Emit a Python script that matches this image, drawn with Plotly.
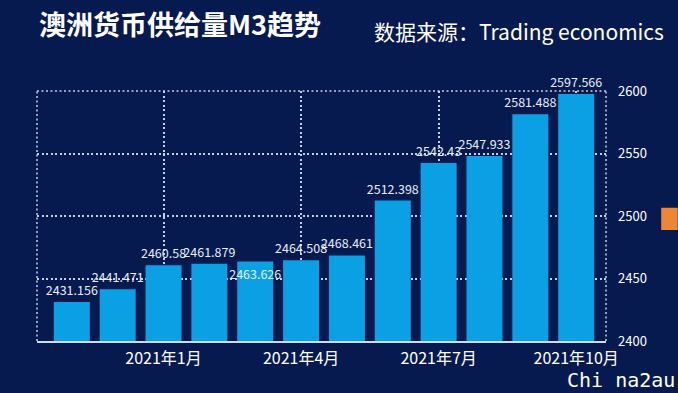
import plotly.graph_objects as go

months = ["2020-11", "2020-12", "2021-01", "2021-02", "2021-03", "2021-04",
          "2021-05", "2021-06", "2021-07", "2021-08", "2021-09", "2021-10"]
m3_values = [2431.156, 2441.471, 2460.58, 2461.879, 2463.626, 2464.508,
             2468.461, 2512.398, 2542.43, 2547.933, 2581.488, 2597.566]
label_pos = ["outside", "outside", "outside", "outside", "inside", "outside",
             "outside", "outside", "outside", "outside", "outside", "outside"]
tick_vals = ["2021-01", "2021-04", "2021-07", "2021-10"]
tick_text = ["2021年1月", "2021年4月", "2021年7月", "2021年10月"]
y_ticks = [2400, 2450, 2500, 2550, 2600]

BG = "#061a4f"
BAR = "#0ba0e4"
GRID = "rgba(215,228,245,0.9)"
FONT = "Noto Sans CJK SC"

fig = go.Figure()
fig.add_trace(go.Bar(
    x=months, y=m3_values,
    text=[str(v) for v in m3_values],
    textposition=label_pos,
    insidetextanchor="end",
    textangle=0,
    constraintext="none",
    cliponaxis=False,
    textfont=dict(family=FONT, size=12.5, color="#e6edf8"),
    marker=dict(color=BAR, line=dict(width=0)),
    hoverinfo="skip",
))

fig.update_layout(
    width=678, height=393,
    margin=dict(l=37, r=72, t=91, b=52),
    paper_bgcolor=BG, plot_bgcolor=BG,
    bargap=0.215,
    showlegend=False,
    font=dict(family=FONT, color="#ffffff"),
)

fig.update_xaxes(
    type="category",
    range=[-0.76, 11.65],
    tickmode="array", tickvals=tick_vals, ticktext=tick_text,
    tickfont=dict(family=FONT, size=16, color="#ffffff"),
    showgrid=True, gridcolor=GRID, gridwidth=1.5, griddash="2px,2.5px",
    showline=True, linecolor="#cfdcee", linewidth=2,
    ticks="", zeroline=False,
    ticklabelstandoff=2,
)
fig.update_yaxes(
    side="right",
    range=[2400, 2600],
    tickmode="array", tickvals=y_ticks,
    tickfont=dict(family=FONT, size=13, color="#ffffff"),
    showgrid=True, gridcolor=GRID, gridwidth=1.5, griddash="2px,2.5px",
    showline=False, zeroline=False, ticks="",
    ticklabelstandoff=11,
)

# dotted frame (left, top, right)
for x0, y0, x1, y1 in [(0, 0, 0, 1), (0, 1, 1, 1), (1, 0, 1, 1)]:
    fig.add_shape(type="line", xref="paper", yref="paper",
                  x0=x0, y0=y0, x1=x1, y1=y1,
                  line=dict(color=GRID, width=1.5, dash="2px,2.5px"))

# orange tab at right edge
fig.add_shape(type="rect", xref="paper", yref="paper",
              x0=1.097, x1=1.126, y0=0.444, y1=0.533,
              fillcolor="#ec8733", line=dict(width=0), layer="above")

fig.add_annotation(text="<b>澳洲货币供给量M3趋势</b>", xref="paper", yref="paper",
                   x=0.0, y=1.27, xanchor="left", yanchor="middle",
                   showarrow=False, font=dict(family=FONT, size=27, color="#ffffff"))
fig.add_annotation(text="数据来源：Trading economics", xref="paper", yref="paper",
                   x=0.588, y=1.24, xanchor="left", yanchor="middle",
                   showarrow=False, font=dict(family=FONT, size=21, color="#ffffff"))
fig.add_annotation(text="Chi na2au", xref="paper", yref="paper",
                   x=0.928, y=-0.156, xanchor="left", yanchor="middle",
                   showarrow=False, font=dict(family="DejaVu Sans Mono", size=20, color="#ffffff"))

fig.write_html("out.html",
               config={"displayModeBar": False},
               post_script="document.body.style.margin='0';document.body.style.overflow='hidden';")
